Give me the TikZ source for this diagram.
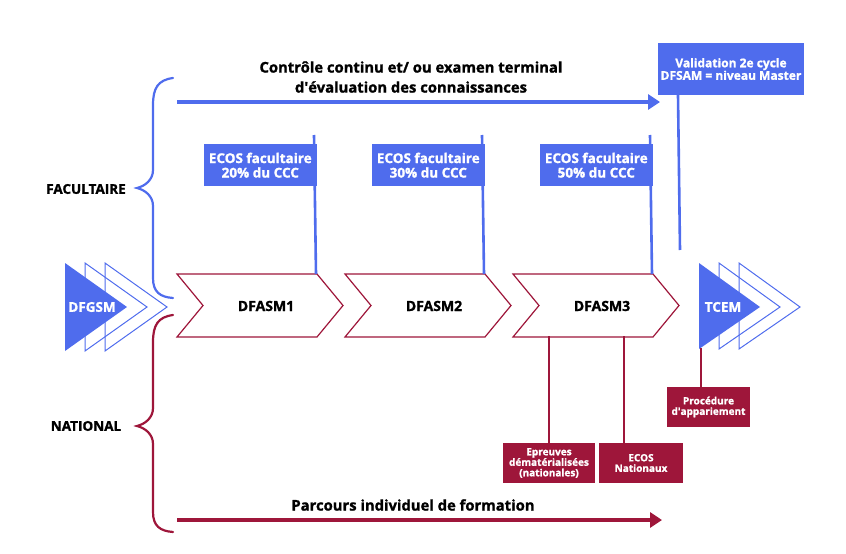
\documentclass[tikz,border=0pt]{standalone}
\usepackage{fontspec}
\setmainfont{Open Sans}[BoldFeatures={FakeBold=1.3}]
\usetikzlibrary{positioning,arrows.meta}
\definecolor{facblue}{RGB}{79,108,237}
\definecolor{natred}{RGB}{158,22,58}

\begin{document}
\begin{tikzpicture}[x=1pt,y=-1pt,
  chev/.style={draw=natred,line width=1.2pt,fill=white},
  tri/.style={draw=facblue,line width=1pt},
  flag/.style={fill=facblue,text=white,font=\bfseries\fontsize{13.5}{14.5}\selectfont,
    align=center,inner sep=0pt,minimum width=113pt,minimum height=42pt},
  tag/.style={fill=natred,text=white,font=\bfseries\fontsize{10}{10.5}\selectfont,
    align=center,inner sep=0pt,minimum height=40pt},
  pole/.style={line width=2.6pt},
  brace/.style={line width=2.2pt,line cap=round},
  lbl/.style={font=\bfseries\fontsize{14}{19}\selectfont,align=center,inner sep=0pt},
  longarrow/.style={line width=3.8pt,-{Triangle[length=12pt,width=15pt]}}]

\useasboundingbox (0,0) rectangle (846,554);

% left and right triangles
\foreach \o in {40,20}{
  \draw[tri] (65+\o,263) -- (127+\o,307) -- (65+\o,351) -- cycle;
  \draw[tri] (699+\o,263) -- (760+\o,307) -- (699+\o,349) -- cycle;
}
\fill[facblue] (65,263) -- (127,307) -- (65,351) -- cycle;
\fill[facblue] (699,263) -- (760,307) -- (699,349) -- cycle;
\node[lbl,text=white,font=\bfseries\fontsize{13.5}{16}\selectfont] (dfgsm) at (92,307) {DFGSM};
\node[lbl,text=white,font=\bfseries\fontsize{13.5}{16}\selectfont] (tcem) at (723,307) {TCEM};
\coordinate (tcemb) at (701,348);

% DFASM chevrons with faculty flags
\foreach \i/\x/\p in {1/177/20,2/345/30,3/513/50}{
  \draw[chev] (\x,274) -- ++(140,0) -- ++(26,31.5) -- ++(-26,31.5)
    -- ++(-140,0) -- ++(26,-31.5) -- cycle;
  \node[lbl] (dfasm\i) at (\x+89,306) {DFASM\i};
  \coordinate (kt\i) at (\x+139,274);
  \coordinate (pt\i) at (\x+137,135);
  \draw[pole,facblue] (pt\i) -- (kt\i);
  \node[flag,anchor=north east] (ecos\i) at (\x+140,144) {ECOS facultaire\\\p\% du CCC};
}

% validation
\node[flag,minimum width=146pt,minimum height=52pt,
  font=\bfseries\fontsize{12}{12.5}\selectfont] (valid) at (731,69)
  {Validation 2e cycle\\DFSAM = niveau Master};
\coordinate (vb) at (680,250);
\draw[pole,facblue] ([xshift=-53pt]valid.south) -- (vb);

% national
\coordinate (kb1) at (549,336);
\coordinate (kb2) at (624,336);
\node[tag,minimum width=92pt] (epreuves) at (549,463)
  {Epreuves\\dématérialisées\\(nationales)};
\node[tag,minimum width=84pt] (ecosnat) at (641,463) {ECOS\\Nationaux};
\node[tag,minimum width=83pt] (appar) at (708.5,407) {Procédure\\d\textquotesingle appariement};
\draw[pole,natred] (kb1) -- (epreuves.north);
\draw[pole,natred] (kb2) -- (ecosnat.north -| kb2);
\draw[pole,natred] (tcemb) -- (appar.north -| tcemb);

% long arrows
\coordinate (ta) at (177,102);
\coordinate (tb) at (660,102);
\coordinate (ba) at (177,520);
\coordinate (bb) at (662,520);
\draw[longarrow,facblue] (ta) -- (tb);
\draw[longarrow,natred] (ba) -- (bb);
\node[lbl,font=\bfseries\fontsize{14.8}{20}\selectfont] (ctrl) at (411,77)
  {Contrôle continu et/ ou examen terminal\\d\textquotesingle évaluation des connaissances};
\node[lbl,font=\bfseries\fontsize{14.8}{20}\selectfont] (parcours) at (413,505)
  {Parcours individuel de formation};

% braces
\draw[brace,facblue] (173,78) .. controls (158,80) and (153,88) .. (153,105)
  -- (153,170) .. controls (153,180) and (145,186) .. (137,188)
  .. controls (145,190) and (153,196) .. (153,206)
  -- (153,278) .. controls (153,292) and (160,297) .. (173,298);
\draw[brace,natred] (173,315) .. controls (158,317) and (153,325) .. (153,342)
  -- (153,408) .. controls (153,418) and (145,424) .. (137,426)
  .. controls (145,428) and (153,434) .. (153,444)
  -- (153,512) .. controls (153,526) and (160,531) .. (173,532);
\node[lbl,font=\bfseries\fontsize{13.5}{16}\selectfont] (fac) at (86,189) {FACULTAIRE};
\node[lbl,font=\bfseries\fontsize{13.5}{16}\selectfont] (nat) at (86,426) {NATIONAL};

\end{tikzpicture}
\end{document}
